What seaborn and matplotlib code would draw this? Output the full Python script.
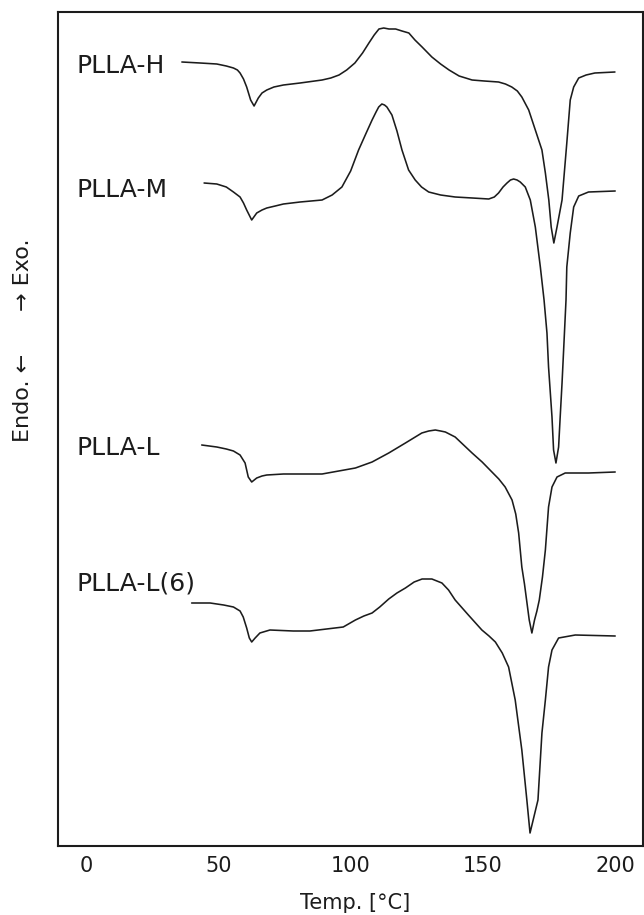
import matplotlib
matplotlib.use("Agg")
import matplotlib.pyplot as plt
import pandas as pd
import seaborn as sns

# DSC heating traces (temperature in deg C, heat flow in arbitrary units, curves offset)
samples = ["PLLA-H", "PLLA-M", "PLLA-L", "PLLA-L(6)"]

temp_h = [36.2, 43.1, 49.4, 53.0, 55.7, 57.2, 58.2, 59.5, 60.7, 62.2,
          63.5, 65.1, 66.5, 68.3, 71.0, 74.6, 80.9, 89.2, 92.5, 95.6,
          98.5, 101.6, 104.5, 106.9, 108.9, 110.7, 112.5, 114.5, 117.0, 119.4,
          122.0, 124.3, 127.0, 130.7, 134.0, 137.2, 141.0, 145.9, 150.5, 155.9,
          158.5, 160.9, 163.0, 164.7, 167.3, 169.8, 172.3, 173.6, 174.9, 175.8,
          176.8, 178.0, 179.9, 181.7, 183.0, 184.3, 186.2, 189.0, 192.3, 199.9]
flow_h = [78.4, 78.3, 78.2, 78.0, 77.8, 77.6, 77.3, 76.7, 75.9, 74.6,
          74.0, 74.8, 75.3, 75.6, 75.9, 76.1, 76.3, 76.6, 76.8, 77.1,
          77.6, 78.3, 79.3, 80.3, 81.1, 81.7, 81.8, 81.7, 81.7, 81.5,
          81.3, 80.6, 79.9, 78.9, 78.2, 77.6, 77.0, 76.6, 76.5, 76.4,
          76.2, 75.9, 75.5, 74.9, 73.6, 71.6, 69.6, 67.3, 64.6, 61.9,
          60.3, 61.9, 64.6, 70.3, 74.6, 75.9, 76.8, 77.1, 77.3, 77.4]

temp_m = [44.6, 49.4, 53.0, 55.7, 58.2, 59.5, 60.7, 62.6, 64.5, 66.5,
          68.3, 71.5, 74.6, 80.9, 89.2, 93.0, 96.7, 100.0, 103.0, 105.7,
          108.1, 109.6, 110.6, 111.8, 112.8, 113.7, 115.6, 117.5, 119.4, 121.9,
          124.4, 126.8, 129.5, 134.0, 139.5, 146.0, 152.2, 154.3, 155.9, 157.6,
          159.1, 160.4, 161.6, 162.9, 164.1, 166.0, 167.9, 169.8, 171.7, 173.1,
          174.2, 174.8, 176.1, 176.7, 177.6, 178.6, 179.2, 179.9, 180.5, 181.4,
          181.7, 183.0, 184.3, 186.2, 189.9, 200.0]
flow_m = [66.3, 66.2, 65.9, 65.4, 64.9, 64.3, 63.6, 62.6, 63.3, 63.6,
          63.8, 64.0, 64.2, 64.4, 64.6, 65.1, 65.9, 67.5, 69.6, 71.2,
          72.6, 73.4, 73.9, 74.2, 74.1, 73.9, 73.1, 71.5, 69.6, 67.6,
          66.6, 65.9, 65.4, 65.1, 64.9, 64.8, 64.7, 64.9, 65.3, 65.9,
          66.3, 66.6, 66.7, 66.6, 66.4, 65.9, 64.6, 61.9, 57.9, 54.6,
          51.3, 47.9, 42.9, 39.6, 38.3, 39.9, 42.9, 46.3, 49.6, 54.6,
          57.9, 61.3, 63.9, 65.0, 65.4, 65.5]

temp_l = [43.7, 49.4, 53.0, 55.7, 58.2, 60.1, 61.3, 62.6, 64.5, 66.5,
          68.3, 74.6, 82.0, 89.2, 95.5, 101.8, 108.1, 114.4, 120.7, 126.9,
          129.5, 132.0, 134.0, 135.8, 139.5, 142.7, 145.9, 149.7, 153.4, 156.0,
          158.4, 161.0, 162.4, 163.5, 164.7, 165.7, 166.5, 167.5, 168.5, 169.5,
          170.4, 171.3, 172.5, 173.6, 174.8, 176.1, 178.0, 181.1, 189.9, 200.0]
flow_l = [40.1, 39.9, 39.7, 39.5, 39.1, 38.3, 36.9, 36.4, 36.8, 37.0,
          37.1, 37.2, 37.2, 37.2, 37.5, 37.8, 38.4, 39.3, 40.3, 41.3,
          41.5, 41.6, 41.5, 41.4, 40.9, 40.1, 39.3, 38.4, 37.4, 36.7,
          35.9, 34.6, 33.2, 31.3, 27.9, 26.2, 24.6, 22.6, 21.3, 22.6,
          23.5, 24.6, 26.9, 29.6, 33.9, 35.9, 36.9, 37.3, 37.3, 37.4]

temp_l6 = [39.9, 46.9, 52.0, 55.7, 58.2, 59.4, 60.7, 61.7, 62.6, 63.9,
           65.7, 69.5, 78.3, 84.6, 90.9, 97.2, 101.8, 105.0, 108.1, 111.0,
           114.4, 117.5, 120.7, 124.0, 127.0, 130.7, 134.5, 137.0, 139.5, 144.5,
           149.6, 152.3, 154.7, 157.3, 159.7, 162.2, 164.7, 166.6, 167.8,
           170.8, 172.3, 173.6, 174.8, 176.1, 178.6, 184.9, 200.0]
flow_l6 = [24.3, 24.3, 24.1, 23.9, 23.5, 22.9, 21.8, 20.8, 20.4, 20.8,
           21.3, 21.6, 21.5, 21.5, 21.7, 21.9, 22.6, 23.0, 23.3, 23.9,
           24.7, 25.3, 25.8, 26.4, 26.7, 26.7, 26.3, 25.6, 24.6, 23.1,
           21.6, 21.0, 20.4, 19.3, 17.9, 14.6, 9.6, 4.6, 1.3,
           4.6, 11.3, 14.6, 17.9, 19.6, 20.8, 21.1, 21.0]

# label anchor (text baseline) for each trace
label_temp = -3.8
label_flow = [77.3, 64.9, 39.1, 25.6]

x_ticks = [0, 50, 100, 150, 200]

frames = []
for name, t, f in zip(samples,
                      [temp_h, temp_m, temp_l, temp_l6],
                      [flow_h, flow_m, flow_l, flow_l6]):
    frames.append(pd.DataFrame({"Temp": t, "Flow": f, "Sample": name}))
df = pd.concat(frames, ignore_index=True)

sns.set_theme(style="white")
plt.rcParams["font.family"] = ["DejaVu Sans"]

ink = "#1c1c1c"
W, H = 644, 915
fig = plt.figure(figsize=(W / 100, H / 100), dpi=100)
ax = fig.add_axes([57.5 / W, (H - 846) / H, (643 - 57.5) / W, (846 - 11.5) / H])

sns.lineplot(data=df, x="Temp", y="Flow", units="Sample", estimator=None,
             sort=False, color=ink, linewidth=1.15, legend=False, ax=ax)
for ln in ax.get_lines():
    ln.set_solid_joinstyle("round")

for name, fy in zip(samples, label_flow):
    ax.text(label_temp, fy, name, fontsize=18, color=ink,
            ha="left", va="baseline")

ax.set_xlim(-10.8, 210.5)
ax.set_ylim(0, 83.45)
ax.set_xticks(x_ticks)
ax.set_xticklabels([str(v) for v in x_ticks])
ax.set_yticks([])
ax.tick_params(axis="x", direction="in", length=8, width=1.0, pad=7,
               labelsize=15, colors=ink)
ax.set_xlabel("")
ax.set_ylabel("")
for sp in ax.spines.values():
    sp.set_visible(True)
    sp.set_color(ink)
    sp.set_linewidth(1.5)

fig.text(355 / W, (H - 909) / H, "Temp. [°C]", fontsize=15, color=ink,
         ha="center", va="baseline")
fig.text(23 / W, (H - 340) / H, "Endo. ←      → Exo.", fontsize=16,
         color=ink, rotation=90, ha="center", va="center")

fig.savefig("out.png", dpi=100, facecolor="white")
